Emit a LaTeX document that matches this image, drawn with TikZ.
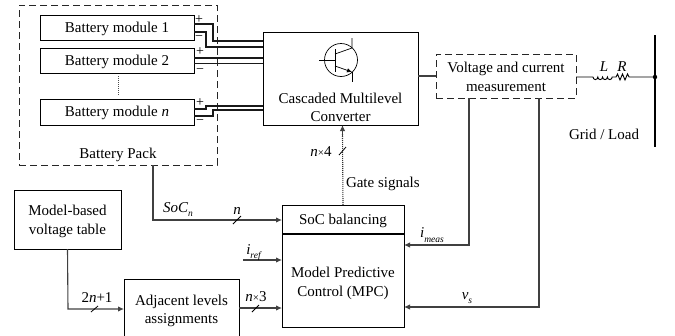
\documentclass[tikz,border=0pt]{standalone}
\usepackage{fontspec}
\setmainfont{Liberation Serif}
\usetikzlibrary{arrows.meta}
\newcommand{\lowtxt}[1]{\raisebox{-0.3em}{\fontsize{9.5}{10}\selectfont\textit{#1}}}
\newcommand{\timesign}{{\fontsize{11}{11}\selectfont ×}}
\tikzset{
  x=1pt,y=-1pt,
  every node/.style={font=\fontsize{15}{18.5}\selectfont,inner sep=0pt,outer sep=0pt,align=center},
  boxn/.style={draw=black,line width=0.9pt,anchor=north west},
  wire/.style={draw=black!75,line width=1.1pt},
  harness/.style={draw=black!90,line width=1.1pt},
  flow/.style={wire,-{Latex[length=6pt,width=5.5pt]}},
  dashbox/.style={draw=black!85,line width=0.9pt,dash pattern=on 7pt off 4pt,anchor=north west},
  slash/.style={draw=black,line width=0.8pt},
  pol/.style={font=\fontsize{14}{14}\selectfont},
}
\begin{document}
\begin{tikzpicture}
\useasboundingbox (0,0) rectangle (675,335);
\clip (0,0) rectangle (675,335);
% boxes
\node[dashbox,minimum width=198pt,minimum height=160pt] (pack) at (19,5) {};
\node[boxn,minimum width=154pt,minimum height=25pt] (m1) at (40,15) {};
\node[yshift=-1pt] (m1t) at (m1) {Battery module 1};
\node[boxn,minimum width=154pt,minimum height=25pt] (m2) at (40,48) {};
\node[yshift=-1pt] (m2t) at (m2) {Battery module 2};
\node[boxn,minimum width=154pt,minimum height=26pt] (mn) at (40,99) {};
\node[yshift=-1pt] (mnt) at (mn) {Battery module \textit{n}};
\node[boxn,minimum width=155pt,minimum height=93pt] (conv) at (263,32) {};
\node (convt) at (340.5,107.5) {Cascaded Multilevel\\Converter};
\node[dashbox,minimum width=140pt,minimum height=44pt] (meas) at (436,54) {};
\node[yshift=-1pt] (meast) at (meas) {Voltage and current\\measurement};
\node (packt) at (118,155) {Battery Pack};
\node (grid) at (604,134) {Grid / Load};
\node[boxn,minimum width=107pt,minimum height=59pt] (tab) at (14,190) {};
\node[yshift=-2pt] (tabt) at (tab) {Model-based\\voltage table};
\node[boxn,minimum width=115pt,minimum height=60pt] (adj) at (124,279) {};
\node[yshift=-2pt] (adjt) at (adj) {Adjacent levels\\assignments};
\node[boxn,minimum width=122pt,minimum height=28pt] (soc) at (282,205) {};
\node[yshift=-2pt] (soct) at (soc) {SoC balancing};
\node[boxn,minimum width=122pt,minimum height=93pt] (mpc) at (282,234) {};
\node[yshift=-3pt] (mpct) at (mpc) {Model Predictive\\Control (MPC)};
% module dots
\coordinate (da) at (118,76);
\coordinate (db) at (118,96);
\draw[black!70,line width=1pt,dash pattern=on 1pt off 1pt] (da) -- (db);
% polarity
\node[pol] (p1) at (199,20) {+};
\node[pol] (q1) at (199,38) {−};
\node[pol] (p2) at (200,52) {+};
\node[pol] (q2) at (200,71) {−};
\node[pol] (p3) at (200,103) {+};
\node[pol] (q3) at (200,122) {−};
% harness
\draw[harness] (m1.east |- 0,24) -- (213,24) -- (213,41) -- (conv.west |- 0,41);
\draw[harness] (m1.east |- 0,32) -- (206,32) -- (206,47) -- (conv.west |- 0,47);
\draw[harness] (m2.east |- 0,58) -- (conv.west |- 0,58);
\draw[harness] (m2.east |- 0,63.5) -- (conv.west |- 0,63.5);
\draw[harness] (mn.east |- 0,109) -- (206,109) -- (206,106) -- (conv.west |- 0,106);
\draw[harness] (mn.east |- 0,116) -- (213,116) -- (213,110) -- (conv.west |- 0,110);
% transistor
\coordinate (tc) at (341,60);
\coordinate (tb) at (319,60);
\coordinate (tbar) at (335,60);
\draw[line width=0.7pt] (tc) circle (16.5);
\draw[line width=0.7pt] (tb) -- (tbar);
\draw[line width=0.9pt] (335,49) -- (335,72);
\draw[line width=0.7pt] (335,54) -- (352,48) -- (352,38);
\draw[line width=0.7pt,-{Latex[length=5pt,width=4.5pt]}] (335,66) -- (352,72);
\draw[line width=0.7pt] (352,72) -- (352,82);
% measurement connections
\draw[wire] (conv.east |- meas.west) -- (meas.west);
\coordinate (bus) at (655,77);
\coordinate (lstart) at (593,77);
\coordinate (rend) at (630,77);
\draw[line width=0.9pt] (meas.east |- bus) -- (lstart)
  arc[start angle=180,end angle=0,x radius=2.4,y radius=2.6]
  arc[start angle=180,end angle=0,x radius=2.4,y radius=2.6]
  arc[start angle=180,end angle=0,x radius=2.4,y radius=2.6]
  arc[start angle=180,end angle=0,x radius=2.4,y radius=2.6]
  -- (616,77) -- (617.5,74) -- (620,80) -- (622.5,74) -- (625,80) -- (627.5,74) -- (629,77) -- (rend) -- (bus);
\fill (bus) circle (2.2);
\coordinate (bust) at (655,35);
\coordinate (busb) at (655,147);
\draw[line width=1.1pt] (bust) -- (busb);
\node (lbl) at (604,66.5) {\textit{L}};
\node (rbl) at (622,66.5) {\textit{R}};
% feedback
\coordinate (mi) at (469,98);
\coordinate (mv) at (539,98);
\draw[flow] (mi) -- (469,245) -- (mpc.east |- 0,245);
\draw[flow] (mv) -- (539,307) -- (mpc.east |- 0,307);
\node (imeas) at (432,235) {\textit{i}\lowtxt{meas}};
\node (vs) at (467,298) {\textit{v}\lowtxt{s}};
% gate
\draw[black!80,line width=1.1pt,dash pattern=on 1pt off 1pt] (soc.north) -- (342.5,134);
\draw[flow] (342.5,136) -- (conv.south -| 342.5,0);
\draw[slash] (339,155) -- (346,147);
\node (nf) at (321,152) {\textit{n}\timesign 4};
\node[anchor=west] (gate) at (346,184) {Gate signals};
% soc
\coordinate (pb) at (153,165);
\draw[flow] (pb) -- (153,220) -- (soc.west |- 0,220);
\draw[slash] (233,224) -- (241,216);
\node (socn) at (178,209.5) {\textit{SoC}\lowtxt{n}};
\node (nn) at (237,211) {\textit{n}};
% iref
\coordinate (iref) at (243,260);
\draw[flow] (iref) -- (mpc.west |- iref);
\node (irefl) at (254,252.5) {\textit{i}\lowtxt{ref}};
% voltage table
\draw[flow] (tab.south) -- (68,309) -- (adj.west |- 0,309);
\draw[slash] (91,312) -- (98,306);
\node (tw) at (97,298) {2\textit{n}+1};
% adj
\draw[flow] (adj.east |- 0,308) -- (mpc.west |- 0,308);
\draw[slash] (252,312) -- (259,305);
\node (nt) at (256,297) {\textit{n}\timesign 3};
\end{tikzpicture}
\end{document}
